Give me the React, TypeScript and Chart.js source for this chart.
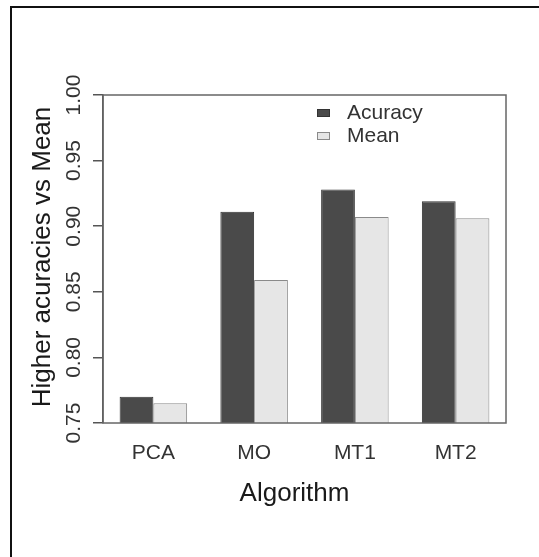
import React, { useEffect, useRef } from 'react';
import { Chart, registerables } from 'chart.js';

Chart.register(...registerables);

const categories = ['PCA', 'MO', 'MT1', 'MT2'];
const accuracy = [0.770, 0.911, 0.928, 0.919];
const meanValues = [0.765, 0.859, 0.907, 0.906];
const yTicks = [0.75, 0.80, 0.85, 0.90, 0.95, 1.00];
const seriesLabels = ['Acuracy', 'Mean'];
const xTitle = 'Algorithm';
const yTitle = 'Higher acuracies vs Mean';

const FONT = '"Liberation Sans", Arial, sans-serif';

const textPlugin = {
  id: 'rstyle',
  afterDraw(chart: any) {
    const ctx = chart.ctx as CanvasRenderingContext2D;
    const area = chart.chartArea;
    const ys = chart.scales.y;
    const xs = chart.scales.x;
    ctx.save();

    // outer frame
    ctx.fillStyle = '#111';
    ctx.fillRect(10, 6, 2, chart.height - 6);
    ctx.fillRect(10, 6, chart.width - 10, 2);

    // plot box
    ctx.strokeStyle = '#666';
    ctx.lineWidth = 1.5;
    ctx.strokeRect(area.left, area.top, area.right - area.left, area.bottom - area.top);

    // y tick labels (rotated)
    ctx.fillStyle = '#333';
    ctx.font = `21px ${FONT}`;
    ctx.textAlign = 'center';
    ctx.textBaseline = 'middle';
    ys.ticks.forEach((t: any) => {
      const y = ys.getPixelForValue(t.value);
      ctx.save();
      ctx.translate(74, y);
      ctx.rotate(-Math.PI / 2);
      ctx.fillText(Number(t.value).toFixed(2), 0, 0);
      ctx.restore();
    });

    // y title
    ctx.fillStyle = '#1a1a1a';
    ctx.font = `26px ${FONT}`;
    ctx.save();
    ctx.translate(43, (area.top + area.bottom) / 2 - 2);
    ctx.rotate(-Math.PI / 2);
    ctx.fillText(yTitle, 0, 0);
    ctx.restore();

    // x tick labels
    ctx.fillStyle = '#333';
    ctx.font = `21px ${FONT}`;
    categories.forEach((c, i) => {
      ctx.fillText(c, xs.getPixelForValue(i), 453);
    });

    // x title
    ctx.fillStyle = '#1a1a1a';
    ctx.font = `26px ${FONT}`;
    ctx.fillText(xTitle, (area.left + area.right) / 2 - 10, 494);

    // legend
    ctx.font = `21px ${FONT}`;
    ctx.textAlign = 'left';
    chart.data.datasets.forEach((ds: any, i: number) => {
      const cy = 113 + i * 23;
      ctx.fillStyle = ds.backgroundColor;
      ctx.fillRect(317, cy - 4, 13, 8);
      ctx.strokeStyle = ds.borderColor;
      ctx.lineWidth = 1;
      ctx.strokeRect(317.5, cy - 3.5, 12, 7);
      ctx.fillStyle = '#333';
      ctx.fillText(ds.label, 347, cy);
    });

    ctx.restore();
  },
};

export default function App() {
  const ref = useRef<HTMLCanvasElement | null>(null);

  useEffect(() => {
    if (!ref.current) return;
    const chart = new Chart(ref.current, {
      type: 'bar',
      data: {
        labels: categories,
        datasets: [
          {
            label: seriesLabels[0],
            data: accuracy,
            backgroundColor: '#4a4a4a',
            borderColor: '#333333',
            borderWidth: 1,
            barPercentage: 1,
            categoryPercentage: 0.67,
          },
          {
            label: seriesLabels[1],
            data: meanValues,
            backgroundColor: '#e6e6e6',
            borderColor: '#8a8a8a',
            borderWidth: 1,
            barPercentage: 1,
            categoryPercentage: 0.67,
          },
        ],
      },
      options: {
        animation: false,
        responsive: false,
        devicePixelRatio: 1,
        layout: { padding: { top: 95, right: 33, left: 0, bottom: 0 } },
        plugins: { legend: { display: false }, tooltip: { enabled: false } },
        scales: {
          x: {
            grid: { display: false },
            border: { display: false },
            ticks: { display: false },
            afterFit: (s: any) => { s.height = 557 - 423; },
          },
          y: {
            min: 0.75,
            max: 1.0,
            afterBuildTicks: (s: any) => { s.ticks = yTicks.map((v) => ({ value: v })); },
            ticks: { display: false },
            grid: { drawOnChartArea: false, drawTicks: true, tickLength: 10, color: '#555', lineWidth: 1.5 },
            border: { display: true, color: '#555', width: 1.5 },
            afterFit: (s: any) => { s.width = 103; },
          },
        },
      },
      plugins: [textPlugin],
    } as any);
    return () => chart.destroy();
  }, []);

  return (
    <div style={{ position: 'fixed', left: 0, top: 0, width: 539, height: 557, background: '#fff' }}>
      <canvas ref={ref} width={539} height={557} style={{ display: 'block', width: 539, height: 557 }} />
    </div>
  );
}
